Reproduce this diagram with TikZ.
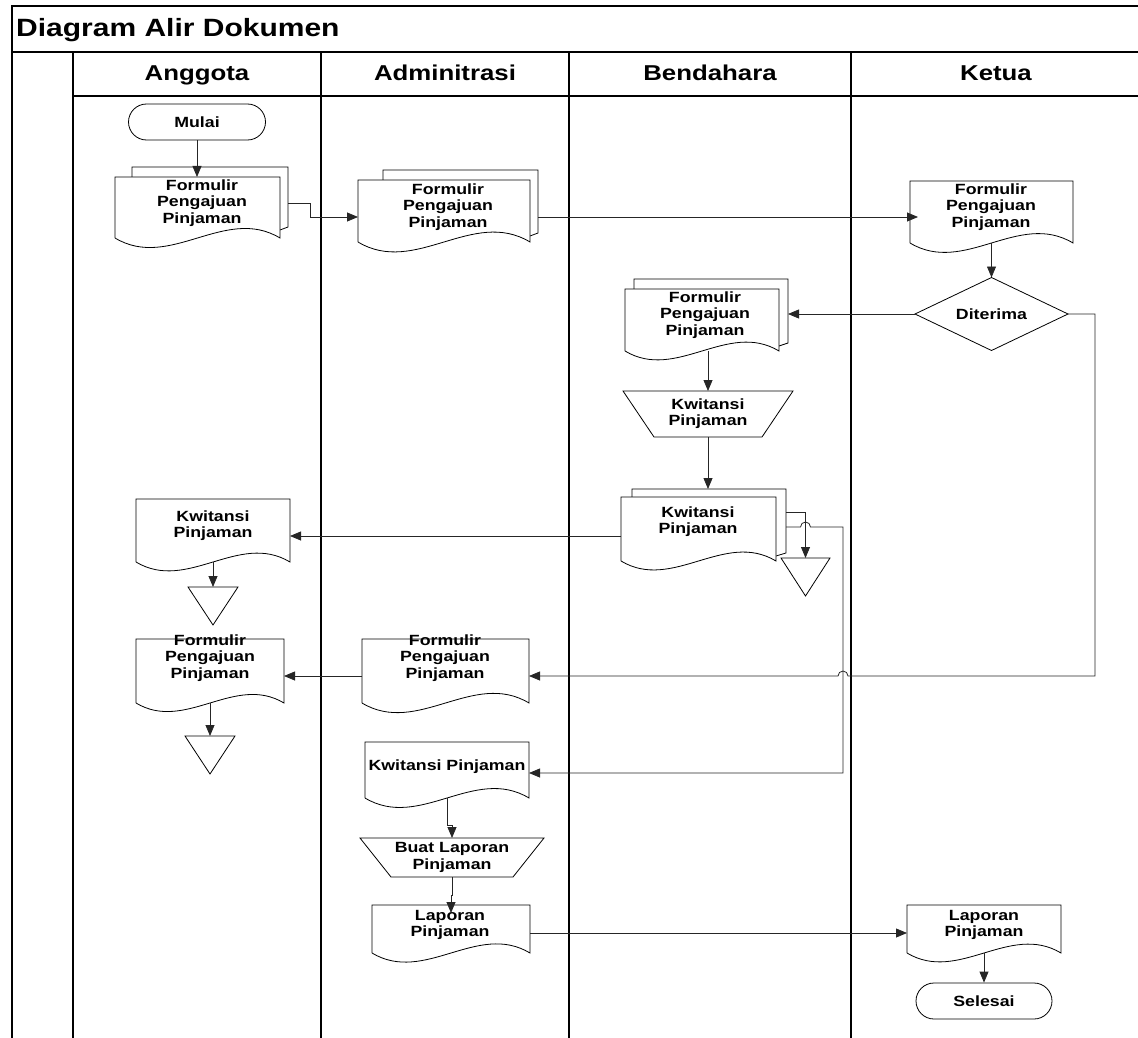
\documentclass[tikz,border=0pt]{standalone}
\usepackage{fontspec}
\setmainfont{Liberation Sans}[FakeStretch=1.2]
\usetikzlibrary{arrows.meta}
\tikzset{
  box/.style={rectangle, inner sep=0pt, outer sep=0pt, draw=none},
  shp/.style={draw=black, line width=0.8pt, fill=white},
  txt/.style={font=\fontsize{14.8}{16.2}\selectfont\bfseries, align=center, inner sep=0pt},
  conn/.style={draw=black!85, line width=0.8pt},
  arr/.style={conn, -{Triangle[length=11pt,width=9pt]}},
  frameline/.style={draw=black, line width=1.2pt},
  term/.style={draw=black, line width=0.8pt, fill=white, rounded corners=18pt,
    minimum width=137pt, minimum height=36pt, inner sep=0pt,
    font=\fontsize{14.8}{16}\selectfont\bfseries},
  lanehead/.style={font=\fontsize{21.5}{24}\selectfont\bfseries, anchor=base, inner sep=0pt},
}
% single document: name, left, top, w, h, textx, texty, text
\newcommand\docshape[8]{%
  \node[box, minimum width=#4, minimum height=#5, anchor=north west] (#1) at (#2,#3) {};
  \draw[shp] (#1.south west) -- (#1.north west) -- (#1.north east) -- (#1.south east)
    .. controls +(-#4/3,-0.2*#4) and +(#4/3,0.2*#4) .. (#1.south west);
  \node[txt] (#1-t) at (#6,#7) {#8};
}
% back page of a multi document: backleft, backtop, backright, backbottom, frontright, fronttop
\newcommand\backpage[6]{%
  \draw[shp, fill=none] (#1,#6) -- (#1,#2) -- (#3,#2) -- (#3,#4) -- (#5,#4+3);
}
% manual operation: name, cx, cy, w, h, inset, text
\newcommand\manop[7]{%
  \node[box, minimum width=#4, minimum height=#5] (#1) at (#2,#3) {};
  \draw[shp] (#1.north west) -- (#1.north east) -- ([xshift=-#6pt]#1.south east)
    -- ([xshift=#6pt]#1.south west) -- cycle;
  \node[txt] (#1-t) at (#1.center) {#7};
}
% off-page triangle: name, cx, top, w, h
\newcommand\offtri[5]{%
  \node[box, minimum width=#4, minimum height=#5, anchor=north] (#1) at (#2,#3) {};
  \draw[shp] (#1.north west) -- (#1.north east) -- (#1.south) -- cycle;
}
\begin{document}
\begin{tikzpicture}[x=1pt,y=-1pt]
\useasboundingbox (0,0) rectangle (1138,1038);
% frame
\draw[frameline] (12,1038) -- (12,6) -- (1138,6);
\draw[draw=black, line width=1.8pt] (12,52) -- (1138,52);
\draw[frameline] (73,96) -- (1138,96);
\foreach \xx in {73,321,569,851} \draw[frameline] (\xx,52) -- (\xx,1038);
\node[font=\fontsize{25}{28}\selectfont\bfseries, anchor=base west, inner sep=0pt] (title) at (16,37) {Diagram Alir Dokumen};
\node[lanehead] (h1) at (197,81) {Anggota};
\node[lanehead] (h2) at (445,81) {Adminitrasi};
\node[lanehead] (h3) at (710,81) {Bendahara};
\node[lanehead] (h4) at (996,81) {Ketua};

% Anggota
\node[term] (mulai) at (197,122) {Mulai};
\backpage{132}{167}{288}{227}{280}{177}
\docshape{af}{115}{177}{165}{61}{202}{203}{Formulir\\Pengajuan\\Pinjaman}
\docshape{akw}{136}{499}{154}{63}{213}{526}{Kwitansi\\Pinjaman}
\offtri{t1}{213}{587}{50}{38}
\docshape{af2}{136}{639}{148}{64}{210}{658}{Formulir\\Pengajuan\\Pinjaman}
\offtri{t2}{210}{736}{50}{38}

% Adminitrasi
\backpage{383}{170}{538}{233}{530}{180}
\docshape{admf}{358}{180}{172}{62}{448}{207}{Formulir\\Pengajuan\\Pinjaman}
\docshape{admf2}{362}{639}{167}{64}{445}{658}{Formulir\\Pengajuan\\Pinjaman}
\docshape{admkw}{365}{742}{164}{56}{447}{767}{Kwitansi Pinjaman}
\manop{tr2}{452}{857.5}{184}{39}{31}{Buat Laporan\\Pinjaman}
\docshape{admlap}{372}{905}{158}{48}{450}{925}{Laporan\\Pinjaman}

% Bendahara
\backpage{634}{279}{788}{343}{779}{289}
\docshape{bf}{625}{289}{154}{62}{705}{315}{Formulir\\Pengajuan\\Pinjaman}
\manop{tr1}{708}{414}{170}{46}{31}{Kwitansi\\Pinjaman}
\backpage{632}{489}{786}{553}{776}{497}
\docshape{bkw}{621}{497}{155}{64}{698}{522}{Kwitansi\\Pinjaman}
\offtri{t3}{805.5}{558}{49}{38}

% Ketua
\docshape{kf}{910}{181}{163}{62}{991}{207}{Formulir\\Pengajuan\\Pinjaman}
\node[box, minimum width=153, minimum height=73] (dit) at (991.5,314) {};
\draw[shp] (dit.west) -- (dit.north) -- (dit.east) -- (dit.south) -- cycle;
\node[txt] (dit-t) at (dit.center) {Diterima};
\docshape{klap}{907}{905}{154}{48}{984}{925}{Laporan\\Pinjaman}
\node[term, minimum width=136pt] (selesai) at (984,1001) {Selesai};

% helper coordinates
\coordinate (rx) at (1095,0);
\coordinate (vx) at (843,0);
\coordinate (bfR) at ([xshift=9pt]bf.east);
\coordinate (bkwT) at ([yshift=8pt]bkw.north);
\coordinate (bkwR1) at ([xshift=10pt,yshift=-15pt]bkw.north east);
\coordinate (bkwR2) at ([xshift=10pt,yshift=-30pt]bkw.north east);
\coordinate (a6) at ([yshift=-5pt]admf2.east);
\coordinate (a10) at ([yshift=-3pt]admkw.east);

% connectors
\draw[arr] (mulai.south) -- (mulai.south |- af.north);
\draw[arr] ([xshift=8pt,yshift=-26pt]af.north east) -- ++(22,0) |- ([yshift=-6pt]admf.west);
\draw[arr] ([xshift=8pt,yshift=-6pt]admf.east) -- ([xshift=8pt,yshift=-6pt]admf.east -| kf.west);
\draw[arr] (kf.south) -- (dit.north);
\draw[arr] (dit.west) -- (dit.west -| bfR);
\draw[arr] (dit.east) -- (dit.east -| rx) |- ([xshift=5pt]vx |- a6)
  arc[start angle=0, end angle=-180, radius=5] -- (a6);
\draw[arr] (tr1.north |- bf.south) -- (tr1.north);
\draw[arr] (tr1.south) -- (tr1.south |- bkwT);
\draw[arr] (bkwR1) -| (t3.north);
\draw[arr] (bkwR2) -- ([xshift=-5pt]t3.north |- bkwR2)
  arc[start angle=180, end angle=360, radius=5] -- (vx |- bkwR2) |- (a10);
\draw[arr] ([yshift=-7pt]bkw.west) -- ([yshift=-7pt]bkw.west -| akw.east);
\draw[arr] (t1.north |- akw.south) -- (t1.north);
\draw[arr] ([yshift=-5pt]admf2.west) -- ([yshift=-5pt]admf2.west -| af2.east);
\draw[arr] (t2.north |- af2.south) -- (t2.north);
\draw[arr] (admkw.south) -- ++(0,27) -| (tr2.north);
\draw[arr] (tr2.south) -- ++(0,18) -| ([yshift=-8pt]admlap.north);
\draw[arr] ([yshift=-4pt]admlap.east) -- ([yshift=-4pt]admlap.east -| klap.west);
\draw[arr] (klap.south) -- (selesai.north);
\end{tikzpicture}
\end{document}
